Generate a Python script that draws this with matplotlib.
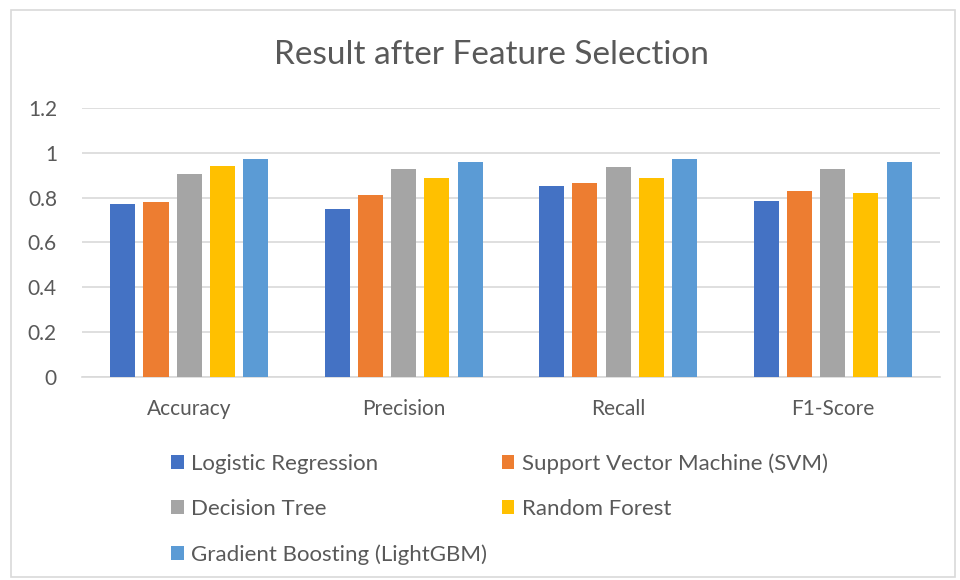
import matplotlib.pyplot as plt
import numpy as np
from matplotlib.patches import Rectangle

plt.rcParams['font.family'] = ['Lato', 'DejaVu Sans']

metrics = ["Accuracy", "Precision", "Recall", "F1-Score"]
models = ["Logistic Regression", "Support Vector Machine (SVM)", "Decision Tree",
          "Random Forest", "Gradient Boosting (LightGBM)"]
colors = ["#4472C4", "#ED7D31", "#A5A5A5", "#FFC000", "#5B9BD5"]

logistic = [0.77, 0.75, 0.85, 0.785]
svm = [0.78, 0.81, 0.865, 0.83]
decision_tree = [0.905, 0.927, 0.937, 0.927]
random_forest = [0.94, 0.887, 0.887, 0.82]
lightgbm = [0.97, 0.957, 0.97, 0.957]
scores = [logistic, svm, decision_tree, random_forest, lightgbm]

yticks = [0, 0.2, 0.4, 0.6, 0.8, 1.0, 1.2]
ytick_labels = ["0", "0.2", "0.4", "0.6", "0.8", "1", "1.2"]

text_grey = "#595959"

fig = plt.figure(figsize=(9.6, 5.8), dpi=100)
ax = fig.add_axes([0.0854, 0.35, 0.8936, 0.464])

x = np.arange(len(metrics))
step = 0.155
width = 0.117
for i, (name, vals) in enumerate(zip(models, scores)):
    ax.bar(x + (i - 2) * step, vals, width, color=colors[i], label=name, zorder=3)

ax.set_xlim(-0.5, len(metrics) - 0.5)
ax.set_ylim(0, 1.2)
ax.set_yticks(yticks)
ax.set_yticklabels(ytick_labels)
ax.set_xticks(x)
ax.set_xticklabels(metrics)
ax.tick_params(axis="both", length=0, labelsize=15, colors=text_grey)
ax.tick_params(axis="y", pad=18)
ax.tick_params(axis="x", pad=16)
ax.grid(axis="y", color="#D9D9D9", linewidth=1.2, zorder=0)
for side in ["top", "right", "left"]:
    ax.spines[side].set_visible(False)
ax.spines["bottom"].set_color("#D9D9D9")
ax.spines["bottom"].set_linewidth(1.2)

fig.text(0.512, 0.905, "Result after Feature Selection", ha="center", va="center",
         fontsize=24, color=text_grey)

# legend filled row by row: reorder so the column-wise fill reads across
handles, labels = ax.get_legend_handles_labels()
order = [0, 2, 4, 1, 3]
leg = fig.legend([handles[k] for k in order], [labels[k] for k in order], ncol=2,
                 loc="upper left", bbox_to_anchor=(0.167, 0.238), frameon=False,
                 fontsize=16, borderpad=0, handlelength=0.56, handleheight=0.56,
                 handletextpad=0.33, columnspacing=0.66, labelspacing=1.14,
                 labelcolor=text_grey)

fig.patches.append(Rectangle((0.0115, 0.005), 0.983, 0.978, transform=fig.transFigure,
                             fill=False, edgecolor="#D9D9D9", linewidth=1.2))

fig.savefig("out.png", dpi=100)
